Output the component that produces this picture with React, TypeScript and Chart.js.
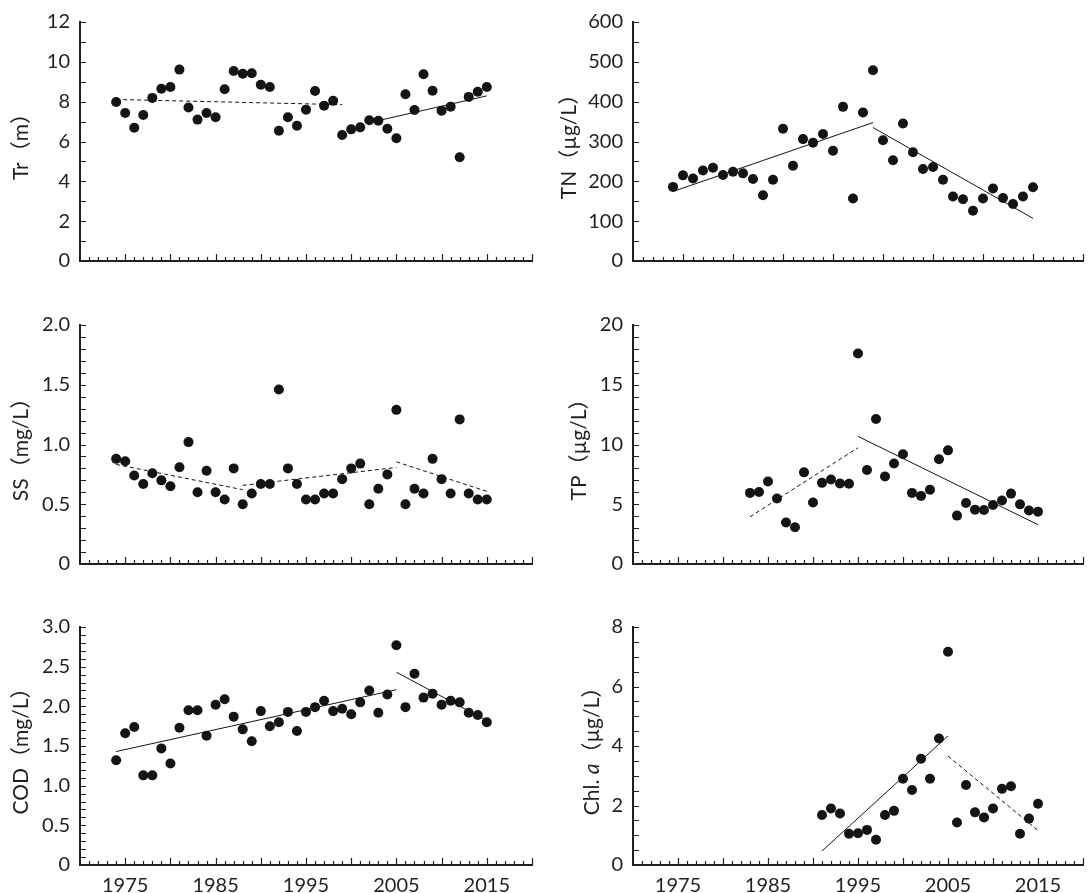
import React, { useEffect, useRef } from 'react';
import { Chart, registerables } from 'chart.js';

Chart.register(...registerables);

const INK = '#231f20';
const DOT = '#141414';
const FONT = "Lato, 'Noto Sans CJK SC', sans-serif";

// ---------- Tr ----------
const trYears = [1974, 1975, 1976, 1977, 1978, 1979, 1980, 1981, 1982, 1983, 1984, 1985, 1986, 1987, 1988, 1989, 1990, 1991, 1992, 1993, 1994, 1995, 1996, 1997, 1998, 1999, 2000, 2001, 2002, 2003, 2004, 2005, 2006, 2007, 2008, 2009, 2010, 2011, 2012, 2013, 2014, 2015];
const trValues = [7.98, 7.43, 6.69, 7.33, 8.19, 8.65, 8.74, 9.61, 7.71, 7.10, 7.43, 7.22, 8.62, 9.54, 9.40, 9.43, 8.85, 8.74, 6.54, 7.22, 6.79, 7.60, 8.54, 7.80, 8.04, 6.33, 6.61, 6.71, 7.07, 7.04, 6.64, 6.16, 8.37, 7.58, 9.38, 8.55, 7.55, 7.75, 5.21, 8.24, 8.50, 8.74];
const trTrendA = [[1974, 8.11], [1999, 7.85]];
const trTrendB = [[2003, 7.05], [2015, 8.29]];
const trYTicks = [0, 2, 4, 6, 8, 10, 12];
const trYLabels = ['0', '2', '4', '6', '8', '10', '12'];

// ---------- TN ----------
const tnYears = [1974, 1975, 1976, 1977, 1978, 1979, 1980, 1981, 1982, 1983, 1984, 1985, 1986, 1987, 1988, 1989, 1990, 1991, 1992, 1993, 1994, 1995, 1996, 1997, 1998, 1999, 2000, 2001, 2002, 2003, 2004, 2005, 2006, 2007, 2008, 2009, 2010];
const tnValues = [186, 215, 207, 227, 234, 216, 224, 220, 206, 165, 204, 332, 239, 306, 297, 319, 277, 387, 157, 373, 479, 303, 253, 345, 273, 231, 236, 204, 162, 155, 126, 157, 182, 158, 143, 162, 185];
const tnTrendA = [[1974, 174.5], [1994, 347.5]];
const tnTrendB = [[1994, 335], [2010, 107]];
const tnYTicks = [0, 100, 200, 300, 400, 500, 600];
const tnYLabels = ['0', '100', '200', '300', '400', '500', '600'];

// ---------- SS ----------
const ssYears = [1974, 1975, 1976, 1977, 1978, 1979, 1980, 1981, 1982, 1983, 1984, 1985, 1986, 1987, 1988, 1989, 1990, 1991, 1992, 1993, 1994, 1995, 1996, 1997, 1998, 1999, 2000, 2001, 2002, 2003, 2004, 2005, 2006, 2007, 2008, 2009, 2010, 2011, 2012, 2013, 2014, 2015];
const ssValues = [0.88, 0.86, 0.74, 0.67, 0.76, 0.70, 0.65, 0.81, 1.02, 0.60, 0.78, 0.60, 0.54, 0.80, 0.50, 0.59, 0.67, 0.67, 1.46, 0.80, 0.67, 0.54, 0.54, 0.59, 0.59, 0.71, 0.80, 0.84, 0.50, 0.63, 0.75, 1.29, 0.50, 0.63, 0.59, 0.88, 0.71, 0.59, 1.21, 0.59, 0.54, 0.54];
const ssTrendA = [[1974, 0.833], [1988, 0.622]];
const ssTrendB = [[1988, 0.658], [2005, 0.808]];
const ssTrendC = [[2005, 0.855], [2015, 0.608]];
const ssYTicks = [0, 0.5, 1.0, 1.5, 2.0];
const ssYLabels = ['0', '0.5', '1.0', '1.5', '2.0'];

// ---------- TP ----------
const tpYears = [1983, 1984, 1985, 1986, 1987, 1988, 1989, 1990, 1991, 1992, 1993, 1994, 1995, 1996, 1997, 1998, 1999, 2000, 2001, 2002, 2003, 2004, 2005, 2006, 2007, 2008, 2009, 2010, 2011, 2012, 2013, 2014, 2015];
const tpValues = [5.95, 6.03, 6.90, 5.48, 3.48, 3.07, 7.67, 5.15, 6.79, 7.07, 6.74, 6.71, 17.62, 7.86, 12.14, 7.32, 8.41, 9.18, 5.95, 5.70, 6.22, 8.77, 9.51, 4.05, 5.10, 4.55, 4.52, 4.93, 5.32, 5.89, 4.99, 4.47, 4.38];
const tpTrendA = [[1983, 3.95], [1995, 9.73]];
const tpTrendB = [[1995, 10.68], [2015, 3.29]];
const tpYTicks = [0, 5, 10, 15, 20];
const tpYLabels = ['0', '5', '10', '15', '20'];

// ---------- COD ----------
const codYears = [1974, 1975, 1976, 1977, 1978, 1979, 1980, 1981, 1982, 1983, 1984, 1985, 1986, 1987, 1988, 1989, 1990, 1991, 1992, 1993, 1994, 1995, 1996, 1997, 1998, 1999, 2000, 2001, 2002, 2003, 2004, 2005, 2006, 2007, 2008, 2009, 2010, 2011, 2012, 2013, 2014, 2015];
const codValues = [1.32, 1.66, 1.74, 1.13, 1.13, 1.47, 1.28, 1.73, 1.95, 1.95, 1.63, 2.02, 2.09, 1.87, 1.71, 1.56, 1.94, 1.75, 1.80, 1.93, 1.69, 1.93, 1.99, 2.07, 1.94, 1.97, 1.90, 2.05, 2.20, 1.92, 2.15, 2.77, 1.99, 2.41, 2.11, 2.16, 2.02, 2.07, 2.05, 1.92, 1.89, 1.80];
const codTrendA = [[1974, 1.43], [2005, 2.21]];
const codTrendB = [[2005, 2.43], [2015, 1.82]];
const codYTicks = [0, 0.5, 1.0, 1.5, 2.0, 2.5, 3.0];
const codYLabels = ['0', '0.5', '1.0', '1.5', '2.0', '2.5', '3.0'];

// ---------- Chl. a ----------
const chlYears = [1991, 1992, 1993, 1994, 1995, 1996, 1997, 1998, 1999, 2000, 2001, 2002, 2003, 2004, 2005, 2006, 2007, 2008, 2009, 2010, 2011, 2012, 2013, 2014, 2015];
const chlValues = [1.68, 1.90, 1.73, 1.05, 1.07, 1.18, 0.85, 1.68, 1.82, 2.90, 2.52, 3.57, 2.90, 4.25, 7.17, 1.43, 2.69, 1.77, 1.60, 1.90, 2.56, 2.65, 1.05, 1.56, 2.06];
const chlTrendA = [[1991, 0.47], [2005, 4.34]];
const chlTrendB = [[2005, 3.66], [2015, 1.16]];
const chlYTicks = [0, 2, 4, 6, 8];
const chlYLabels = ['0', '2', '4', '6', '8'];

// ---------- x axis ----------
const xYearLabels = [1975, 1985, 1995, 2005, 2015];

type Seg = { t: string; italic?: boolean };
type Trend = { pts: number[][]; dashed: boolean };
type Panel = {
  left: number; top: number; h: number; xH: number; yW: number; padR: number;
  xMax: number; yMax: number; yMinor: number; yTicks: number[]; yLabels: string[];
  years: number[]; values: number[]; trends: Trend[]; title: Seg[]; titleX: number; showX: boolean;
};

const PANELS: Panel[] = [
  { left: 0, top: 0, h: 291, xH: 30, yW: 80, padR: 13, xMax: 2020, yMax: 12, yMinor: 1, yTicks: trYTicks, yLabels: trYLabels,
    years: trYears, values: trValues, trends: [{ pts: trTrendA, dashed: true }, { pts: trTrendB, dashed: false }],
    title: [{ t: 'Tr（m）' }], titleX: 21, showX: false },
  { left: 545, top: 0, h: 291, xH: 30, yW: 88, padR: 7, xMax: 2015, yMax: 600, yMinor: 50, yTicks: tnYTicks, yLabels: tnYLabels,
    years: tnYears, values: tnValues, trends: [{ pts: tnTrendA, dashed: false }, { pts: tnTrendB, dashed: false }],
    title: [{ t: 'TN（µg/L）' }], titleX: 24, showX: false },
  { left: 0, top: 303, h: 291, xH: 30, yW: 80, padR: 13, xMax: 2020, yMax: 2, yMinor: 0.1, yTicks: ssYTicks, yLabels: ssYLabels,
    years: ssYears, values: ssValues, trends: [{ pts: ssTrendA, dashed: true }, { pts: ssTrendB, dashed: true }, { pts: ssTrendC, dashed: true }],
    title: [{ t: 'SS（mg/L）' }], titleX: 21, showX: false },
  { left: 545, top: 303, h: 291, xH: 30, yW: 88, padR: 7, xMax: 2020, yMax: 20, yMinor: 1, yTicks: tpYTicks, yLabels: tpYLabels,
    years: tpYears, values: tpValues, trends: [{ pts: tpTrendA, dashed: true }, { pts: tpTrendB, dashed: false }],
    title: [{ t: 'TP（µg/L）' }], titleX: 34, showX: false },
  { left: 0, top: 605, h: 288, xH: 28, yW: 80, padR: 13, xMax: 2020, yMax: 3, yMinor: 0.1, yTicks: codYTicks, yLabels: codYLabels,
    years: codYears, values: codValues, trends: [{ pts: codTrendA, dashed: false }, { pts: codTrendB, dashed: false }],
    title: [{ t: 'COD（mg/L）' }], titleX: 21, showX: true },
  { left: 545, top: 605, h: 288, xH: 28, yW: 88, padR: 7, xMax: 2020, yMax: 8, yMinor: 0.5, yTicks: chlYTicks, yLabels: chlYLabels,
    years: chlYears, values: chlValues, trends: [{ pts: chlTrendA, dashed: false }, { pts: chlTrendB, dashed: true }],
    title: [{ t: 'Chl. ' }, { t: 'a', italic: true }, { t: '（µg/L）' }], titleX: 47, showX: true },
];

function makeChart(canvas: HTMLCanvasElement, p: Panel) {
  const innerTicks = {
    id: 'innerTicks',
    afterDraw(chart: any) {
      const { ctx, chartArea } = chart;
      const xs = chart.scales.x;
      const ys = chart.scales.y;
      ctx.save();
      ctx.strokeStyle = INK;
      ctx.lineWidth = 1.2;
      ctx.beginPath();
      const nx = Math.round(xs.max - xs.min);
      for (let i = 1; i <= nx; i++) {
        const v = xs.min + i;
        const px = Math.round(xs.getPixelForValue(v)) + 0.5;
        const len = v % 5 === 0 ? 7 : 4;
        ctx.moveTo(px, chartArea.bottom);
        ctx.lineTo(px, chartArea.bottom - len);
      }
      const ny = Math.round(p.yMax / p.yMinor);
      for (let i = 1; i <= ny; i++) {
        const py = Math.round(ys.getPixelForValue(i * p.yMinor)) + 0.5;
        ctx.moveTo(chartArea.left, py);
        ctx.lineTo(chartArea.left + 6, py);
      }
      ctx.stroke();
      ctx.restore();
    },
  };
  const yTitle = {
    id: 'yTitle',
    afterDraw(chart: any) {
      const { ctx, chartArea } = chart;
      ctx.save();
      ctx.translate(p.titleX, (chartArea.top + chartArea.bottom) / 2);
      ctx.rotate(-Math.PI / 2);
      ctx.fillStyle = INK;
      ctx.textBaseline = 'middle';
      ctx.textAlign = 'left';
      const fonts = p.title.map((s) => `${s.italic ? 'italic ' : ''}21px ${FONT}`);
      const widths = p.title.map((s, i) => {
        ctx.font = fonts[i];
        return ctx.measureText(s.t).width;
      });
      let x = -widths.reduce((a, b) => a + b, 0) / 2;
      p.title.forEach((s, i) => {
        ctx.font = fonts[i];
        ctx.fillText(s.t, x, 0);
        x += widths[i];
      });
      ctx.restore();
    },
  };

  const datasets: any[] = [
    {
      data: p.years.map((x, i) => ({ x, y: p.values[i] })),
      pointRadius: 5,
      pointBackgroundColor: DOT,
      pointBorderWidth: 0,
      showLine: false,
    },
    ...p.trends.map((t) => ({
      data: t.pts.map(([x, y]) => ({ x, y })),
      showLine: true,
      pointRadius: 0,
      borderColor: DOT,
      borderWidth: 1,
      borderDash: t.dashed ? [4, 3] : [],
      fill: false,
    })),
  ];

  return new Chart(canvas, {
    type: 'scatter',
    data: { datasets },
    options: {
      animation: false,
      responsive: false,
      events: [],
      layout: { padding: { top: 18, right: p.padR, left: 0, bottom: 0 } },
      plugins: { legend: { display: false }, tooltip: { enabled: false } },
      scales: {
        x: {
          type: 'linear',
          min: 1970,
          max: p.xMax,
          grid: { display: false, drawTicks: false },
          border: { display: true, color: INK, width: 2 },
          ticks: {
            display: p.showX,
            autoSkip: false,
            maxRotation: 0,
            padding: 9,
            color: INK,
            font: { family: FONT, size: 20 },
            callback: (v: any) => String(v),
          },
          afterBuildTicks: (s: any) => {
            s.ticks = xYearLabels.filter((v) => v <= p.xMax).map((v) => ({ value: v }));
          },
          afterFit: (s: any) => {
            s.height = p.xH;
          },
        },
        y: {
          type: 'linear',
          min: 0,
          max: p.yMax,
          grid: { display: false, drawTicks: false },
          border: { display: true, color: INK, width: 2 },
          ticks: {
            autoSkip: false,
            padding: 10,
            color: INK,
            font: { family: FONT, size: 20 },
            callback: (_v: any, i: number) => p.yLabels[i],
          },
          afterBuildTicks: (s: any) => {
            s.ticks = p.yTicks.map((v) => ({ value: v }));
          },
          afterFit: (s: any) => {
            s.width = p.yW;
          },
        },
      },
    } as any,
    plugins: [innerTicks, yTitle],
  });
}

export default function App() {
  const refs = useRef<(HTMLCanvasElement | null)[]>([]);
  useEffect(() => {
    const charts = PANELS.map((p, i) => makeChart(refs.current[i] as HTMLCanvasElement, p));
    return () => charts.forEach((c) => c.destroy());
  }, []);
  return (
    <div style={{ position: 'absolute', left: 0, top: 0, width: 1090, height: 893, background: '#ffffff', overflow: 'hidden' }}>
      {PANELS.map((p, i) => (
        <canvas
          key={i}
          ref={(el) => {
            refs.current[i] = el;
          }}
          width={545}
          height={p.h}
          style={{ position: 'absolute', left: p.left, top: p.top, width: 545, height: p.h }}
        />
      ))}
    </div>
  );
}
